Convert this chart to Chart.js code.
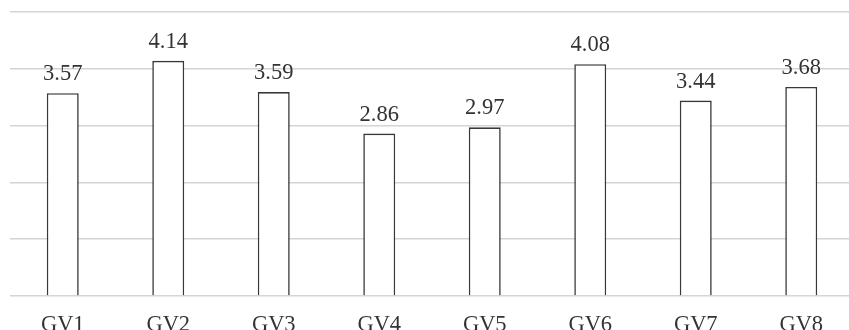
<!DOCTYPE html>
<html>
<head>
<meta charset="utf-8">
<script src="https://cdn.jsdelivr.net/npm/chart.js@4/dist/chart.umd.min.js"></script>
<style>
  html, body { margin: 0; padding: 0; background: #fff; overflow: hidden; }
  #wrap { position: relative; width: 855px; height: 347px; }
</style>
</head>
<body>
<div id="wrap"><canvas id="grafico"></canvas></div>
<script>
// categorias e valores
const categorias = ['GV1', 'GV2', 'GV3', 'GV4', 'GV5', 'GV6', 'GV7', 'GV8'];
const valores = [3.57, 4.14, 3.59, 2.86, 2.97, 4.08, 3.44, 3.68];
const rotulos = ['3.57', '4.14', '3.59', '2.86', '2.97', '4.08', '3.44', '3.68'];

const corTexto = '#333333';
const fonte = 'Liberation Serif, Times New Roman, serif';

// desenha o valor acima de cada barra
const rotulosBarras = {
  id: 'rotulosBarras',
  afterDatasetsDraw(chart) {
    const ctx = chart.ctx;
    const meta = chart.getDatasetMeta(0);
    ctx.save();
    ctx.font = '22.5px ' + fonte;
    ctx.fillStyle = corTexto;
    ctx.textAlign = 'center';
    ctx.textBaseline = 'alphabetic';
    meta.data.forEach((bar, i) => {
      ctx.fillText(rotulos[i], bar.x, bar.y - 13);
    });
    ctx.restore();
  }
};

const ctx = document.getElementById('grafico').getContext('2d');
const grafico = new Chart(ctx, {
  type: 'bar',
  data: {
    labels: categorias,
    datasets: [{
      data: valores,
      backgroundColor: '#ffffff',
      borderColor: '#383838',
      borderWidth: 1.6,
      barPercentage: 0.303,
      categoryPercentage: 1
    }]
  },
  options: {
    responsive: true,
    maintainAspectRatio: false,
    animation: false,
    layout: { padding: { left: 10, right: 1, top: 12, bottom: 0 } },
    plugins: {
      legend: { display: false },
      tooltip: { enabled: false }
    },
    scales: {
      x: {
        grid: { display: false },
        border: { display: false },
        ticks: {
          color: corTexto,
          font: { family: fonte, size: 22.5 },
          padding: 8
        }
      },
      y: {
        min: 0,
        max: 5,
        ticks: { display: false, stepSize: 1 },
        grid: { color: '#d4d4d4', lineWidth: 1.5, drawTicks: false },
        border: { display: false }
      }
    }
  },
  plugins: [rotulosBarras]
});
</script>
</body>
</html>
